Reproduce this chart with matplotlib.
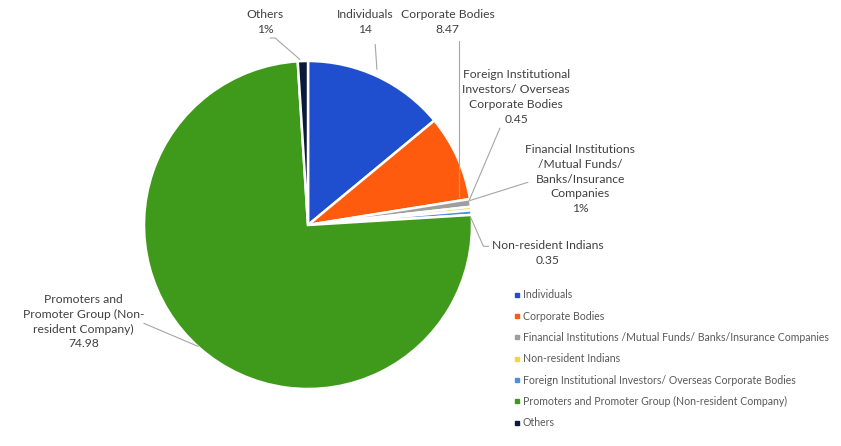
import matplotlib
matplotlib.use('Agg')
import matplotlib.pyplot as plt
from matplotlib.lines import Line2D

plt.rcParams['font.family'] = ['Lato', 'DejaVu Sans']

# slices, clockwise from 12 o'clock
categories = ['Individuals', 'Corporate Bodies',
              'Financial Institutions /Mutual Funds/ Banks/Insurance Companies',
              'Non-resident Indians',
              'Foreign Institutional Investors/ Overseas Corporate Bodies',
              'Promoters and Promoter Group (Non-resident Company)',
              'Others']
values = [14, 8.47, 0.75, 0.35, 0.45, 74.98, 1.0]
value_text = ['14', '8.47', '1%', '0.35', '0.45', '74.98', '1%']
slice_labels = ['Individuals', 'Corporate Bodies',
                'Financial Institutions\n/Mutual Funds/\nBanks/Insurance\nCompanies',
                'Non-resident Indians',
                'Foreign Institutional\nInvestors/ Overseas\nCorporate Bodies',
                'Promoters and\nPromoter Group (Non-\nresident Company)',
                'Others']
colors = ['#1F4ECF', '#FF5B0E', '#9E9E9E', '#F5D547', '#4A8FE0', '#3F9A1C', '#0B1A3A']

# label centres and leader lines (data units, pie radius = 1)
label_pos = [(0.35, 1.24), (0.85, 1.24), (1.66, 0.28), (1.46, -0.17),
             (1.27, 0.78), (-1.37, -0.59), (-0.26, 1.24)]
leaders = [[(0.42, 0.95), (0.41, 1.10)],
           [(0.92, 0.17), (0.92, 1.12)],
           [(0.99, 0.15), (1.34, 0.26)],
           [(0.99, 0.05), (1.07, -0.13), (1.10, -0.13)],
           [(0.97, 0.12), (1.17, 0.59)],
           [(-0.67, -0.74), (-1.00, -0.60)],
           [(-0.05, 1.01), (-0.2, 1.14), (-0.23, 1.14)]]

W, H = 841, 446
cx, cy, r = 308, 225, 164
fig = plt.figure(figsize=(W / 100, H / 100), dpi=100)
ax = fig.add_axes([(cx - r) / W, (H - cy - r) / H, 2 * r / W, 2 * r / H])
wedges, _ = ax.pie(values, colors=colors, startangle=90, counterclock=False,
                   radius=1, wedgeprops=dict(edgecolor='white', linewidth=1.8))
ax.set_xlim(-1, 1)
ax.set_ylim(-1, 1)
ax.set_aspect('auto')
ax.axis('off')

for lab, val, pos, pts in zip(slice_labels, value_text, label_pos, leaders):
    xs, ys = zip(*pts)
    ax.plot(xs, ys, color='#A6A6A6', lw=0.8, clip_on=False)
    ax.text(pos[0], pos[1], lab + '\n' + val, ha='center', va='center',
            fontsize=8.7, color='#404040', linespacing=1.42, clip_on=False)

handles = [Line2D([], [], marker='s', ls='', color=c, markersize=3) for c in colors]
fig.legend(handles, categories, loc='upper left',
           bbox_to_anchor=(507 / W, 1 - 285 / H), frameon=False,
           fontsize=7.6, labelcolor='#595959', labelspacing=0.98,
           handletextpad=0.1, handlelength=1.0, borderaxespad=0)

fig.savefig('out.png', dpi=100)
